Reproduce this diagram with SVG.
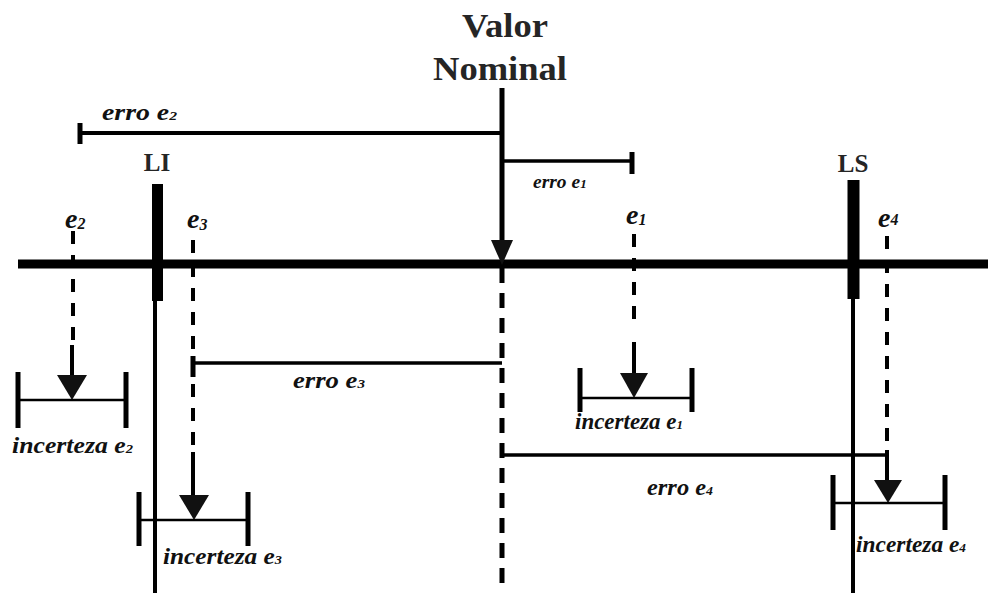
<svg xmlns="http://www.w3.org/2000/svg" width="988" height="593" viewBox="0 0 988 593">
<style>
.lbl{font-family:"Liberation Serif","Times New Roman",serif;font-weight:bold;font-style:italic;fill:#111;font-size:23px}
.lbl.sm{font-size:19.5px}
.sub{font-size:13px}
.big{font-family:"Liberation Serif","Times New Roman",serif;font-style:italic;font-weight:bold;fill:#111;font-size:28px}
.bsub{font-size:16px}
.title{font-family:"Liberation Serif","Times New Roman",serif;font-weight:bold;fill:#252525}
.ln{stroke:#000;fill:none}
.dash{stroke:#000;stroke-width:4;stroke-dasharray:13 11;fill:none}
.tick{stroke:#000;stroke-width:5}
.br{stroke:#000;stroke-width:2.5}
.tri{fill:#111}
</style>
<rect width="988" height="593" fill="#fff"/>

<g id="eixo">
<line class="ln" x1="18" y1="264" x2="988" y2="264" stroke-width="9"/>
</g>

<g id="valor-nominal">
<text class="title" x="505" y="37" font-size="34" text-anchor="middle" textLength="86" lengthAdjust="spacingAndGlyphs">Valor</text>
<text class="title" x="500" y="80" font-size="34" text-anchor="middle" textLength="134" lengthAdjust="spacingAndGlyphs">Nominal</text>
<line class="ln" x1="502" y1="88" x2="502" y2="245" stroke-width="5"/>
<polygon class="tri" points="491,240 513,240 502,265"/>
<line class="ln" x1="502" y1="268" x2="502" y2="593" stroke-width="5" stroke-dasharray="15 10"/>
</g>

<g id="LI">
<text class="title" x="157" y="171" font-size="25" text-anchor="middle">LI</text>
<line class="ln" x1="157.5" y1="184" x2="157.5" y2="301" stroke-width="11"/>
<line class="ln" x1="155" y1="295" x2="155" y2="593" stroke-width="4"/>
</g>

<g id="LS">
<text class="title" x="853" y="172" font-size="25" text-anchor="middle">LS</text>
<line class="ln" x1="853.5" y1="180" x2="853.5" y2="299" stroke-width="12"/>
<line class="ln" x1="853" y1="295" x2="853" y2="593" stroke-width="4"/>
</g>

<g id="e2">
<text class="big" x="65" y="228">e<tspan class="bsub" dy="1">2</tspan></text>
<line class="dash" x1="73" y1="231" x2="73" y2="340"/>
<line class="ln" x1="72" y1="345" x2="72" y2="380" stroke-width="4"/>
<polygon class="tri" points="57,375 87,375 72,400"/>
<line class="br" x1="18" y1="400" x2="126" y2="400"/>
<line class="tick" x1="18" y1="372" x2="18" y2="428"/>
<line class="tick" x1="126" y1="372" x2="126" y2="428"/>
<text class="lbl" x="12" y="453" textLength="121" lengthAdjust="spacingAndGlyphs">incerteza e<tspan class="sub">2</tspan></text>
</g>

<g id="e3">
<text class="big" x="187" y="228">e<tspan class="bsub" dy="2">3</tspan></text>
<line class="dash" x1="193" y1="240" x2="193" y2="445" stroke-dasharray="17 10"/>
<line class="ln" x1="193" y1="452" x2="193" y2="500" stroke-width="4"/>
<polygon class="tri" points="179,495 209,495 194,520"/>
<line class="br" x1="139" y1="520" x2="248" y2="520"/>
<line class="tick" x1="139" y1="492" x2="139" y2="546"/>
<line class="tick" x1="248" y1="492" x2="248" y2="546"/>
<text class="lbl" x="163" y="564" textLength="119" lengthAdjust="spacingAndGlyphs">incerteza e<tspan class="sub">3</tspan></text>
</g>

<g id="e1">
<text class="big" x="626" y="224">e<tspan class="bsub" dy="1">1</tspan></text>
<line class="dash" x1="634" y1="234" x2="634" y2="330" stroke-dasharray="12 12"/>
<line class="ln" x1="634" y1="342" x2="634" y2="378" stroke-width="4"/>
<polygon class="tri" points="620,373 648,373 634,398"/>
<line class="br" x1="580" y1="398" x2="692" y2="398"/>
<line class="tick" x1="580" y1="368" x2="580" y2="412"/>
<line class="tick" x1="692" y1="368" x2="692" y2="412"/>
<text class="lbl" x="575" y="429" textLength="108" lengthAdjust="spacingAndGlyphs">incerteza e<tspan class="sub">1</tspan></text>
</g>

<g id="e4">
<text class="big" x="878" y="227">e<tspan class="bsub" dy="-2">4</tspan></text>
<line class="dash" x1="887" y1="236" x2="887" y2="442"/>
<line class="ln" x1="887" y1="450" x2="887" y2="484" stroke-width="4"/>
<polygon class="tri" points="874,480 902,480 888,503"/>
<line class="br" x1="833" y1="503" x2="945" y2="503"/>
<line class="tick" x1="833" y1="475" x2="833" y2="530"/>
<line class="tick" x1="945" y1="475" x2="945" y2="530"/>
<text class="lbl" x="856" y="552" textLength="110" lengthAdjust="spacingAndGlyphs">incerteza e<tspan class="sub">4</tspan></text>
</g>

<g id="erros">
<line class="ln" x1="80" y1="133" x2="502" y2="133" stroke-width="4"/>
<line class="tick" x1="80" y1="123" x2="80" y2="144"/>
<text class="lbl" x="102" y="120" textLength="75" lengthAdjust="spacingAndGlyphs">erro e<tspan class="sub">2</tspan></text>

<line class="ln" x1="502" y1="161" x2="632" y2="161" stroke-width="3.5"/>
<line class="tick" x1="632" y1="152" x2="632" y2="174"/>
<text class="lbl sm" x="533" y="188">erro e<tspan class="sub">1</tspan></text>

<line class="ln" x1="193" y1="363" x2="502" y2="363" stroke-width="3.5"/>
<line class="tick" x1="193" y1="356" x2="193" y2="377"/>
<text class="lbl" x="293" y="388" textLength="72" lengthAdjust="spacingAndGlyphs">erro e<tspan class="sub">3</tspan></text>

<line class="ln" x1="502" y1="455" x2="887" y2="455" stroke-width="3.5"/>
<text class="lbl" x="647" y="495" textLength="66" lengthAdjust="spacingAndGlyphs">erro e<tspan class="sub">4</tspan></text>
</g>
</svg>
